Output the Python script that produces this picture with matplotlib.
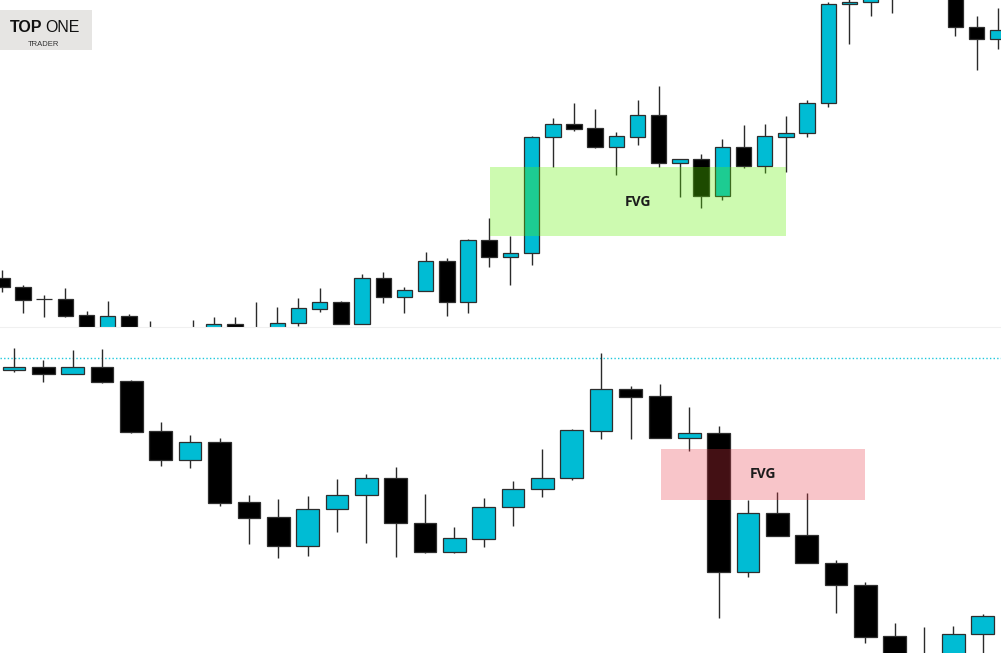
import matplotlib
matplotlib.use("Agg")
import matplotlib.pyplot as plt
from matplotlib.patches import Rectangle

# colours
BULL = "#00bcd4"
BEAR = "#000000"
EDGE = "#2e2e2e"
WICK = "#2a2a2a"

# upper chart, OHLC (price units)
top_open = [122, 113, 101, 101, 85, 70, 84, 70, 68, 71, 68, 76, 72, 70, 77, 91,
            98, 76, 122, 103, 109, 139, 98, 160, 143, 147, 263, 276, 272, 253, 263, 285,
            237, 241, 204, 253, 234, 263, 267, 297, 396, 398, 405, 415, 425, 412, 373, 361]
top_high = [130, 115, 105, 112, 89, 99, 86, 79, 71, 80, 83, 83, 98, 93, 102, 112,
            99, 126, 128, 113, 148, 142, 161, 182, 164, 264, 282, 297, 291, 268, 300, 314,
            241, 246, 261, 275, 276, 284, 300, 398, 402, 410, 420, 430, 432, 415, 384, 392]
top_low = [108, 87, 83, 83, 66, 65, 64, 60, 60, 62, 64, 64, 66, 66, 74, 88,
           76, 76, 97, 87, 109, 84, 87, 133, 115, 135, 233, 269, 252, 225, 255, 233,
           203, 192, 200, 232, 227, 228, 263, 293, 356, 384, 387, 405, 402, 364, 330, 351]
top_close = [113, 100, 101, 84, 70, 84, 68, 66, 64, 68, 76, 68, 70, 77, 92, 98,
             76, 122, 103, 110, 139, 98, 160, 143, 147, 263, 276, 271, 253, 264, 285, 237,
             241, 204, 253, 234, 264, 267, 297, 396, 398, 404, 415, 425, 410, 373, 361, 370]

# lower chart, OHLC (price units)
bot_open = [330, 333, 326, 333, 319, 269, 240, 258, 198, 183, 154, 191, 205, 222, 177, 148, 161,
            193, 211, 222, 269, 311, 304, 262, 267, 128, 187, 165, 137, 115, 64, 44, 40, 66]
bot_high = [352, 340, 350, 351, 320, 278, 265, 262, 205, 201, 204, 221, 226, 233, 206, 173, 202,
            219, 251, 271, 347, 314, 316, 293, 274, 200, 208, 207, 140, 118, 77, 73, 74, 86]
bot_low = [328, 318, 326, 317, 267, 234, 232, 194, 156, 142, 144, 168, 157, 143, 147, 147, 153,
           174, 203, 220, 261, 261, 262, 249, 82, 123, 164, 137, 87, 57, 30, 30, 30, 35]
bot_close = [333, 326, 333, 318, 268, 240, 258, 197, 182, 154, 191, 205, 222, 177, 148, 162, 193,
             211, 222, 270, 311, 303, 262, 267, 128, 187, 164, 137, 115, 63, 40, 40, 66, 84]

# fair value gaps: (first candle, last candle, low, high)
top_fvg = (23.04, 37.0, 164, 233)
bot_fvg = (22.04, 28.98, 200, 251)
cyan_level = 342.5


def draw_candles(ax, o, h, l, c, width):
    for i in range(len(o)):
        up = c[i] > o[i]
        col = BULL if up else BEAR
        ax.vlines(i, l[i], h[i], color=WICK, lw=1.0, zorder=2)
        lo = min(o[i], c[i])
        ax.add_patch(Rectangle((i - width / 2, lo), width, abs(c[i] - o[i]),
                               facecolor=col, edgecolor=EDGE, lw=0.9, zorder=3))


def draw_fvg(ax, box, color, alpha):
    x0, x1, y0, y1 = box
    ax.add_patch(Rectangle((x0, y0), x1 - x0, y1 - y0, facecolor=color,
                           edgecolor="none", alpha=alpha, zorder=4))
    ax.text((x0 + x1) / 2, (y0 + y1) / 2, "FVG", ha="center", va="center",
            fontsize=10, fontweight="bold", family="Open Sans", color="#1c1c1c", zorder=5)


fig = plt.figure(figsize=(10.01, 6.53), dpi=100)
ax_top = fig.add_axes([0, 326 / 653, 1, 327 / 653])
ax_bot = fig.add_axes([0, 0, 1, 326 / 653])

draw_candles(ax_top, top_open, top_high, top_low, top_close, 0.73)
draw_fvg(ax_top, top_fvg, "#60f000", 0.31)
ax_top.set_xlim(-0.085, 47.15)
ax_top.set_ylim(73, 400)

draw_candles(ax_bot, bot_open, bot_high, bot_low, bot_close, 0.77)
draw_fvg(ax_bot, bot_fvg, "#ea3947", 0.29)
ax_bot.axhline(cyan_level, color="#1ec8dc", lw=1.0, ls=(0, (1, 1.6)), zorder=1)
ax_bot.set_xlim(-0.477, 33.62)
ax_bot.set_ylim(47, 373)

for ax in (ax_top, ax_bot):
    ax.set_axis_off()

# faint separator between the two charts
fig.add_artist(plt.Line2D([0, 1], [326.5 / 653, 326.5 / 653], color="#f0f0f0", lw=0.8))

# logo
fig.add_artist(Rectangle((0, 1 - 50 / 653), 92 / 1001, 40 / 653, facecolor="#e6e5e3",
                         edgecolor="none", transform=fig.transFigure))
fig.text(10 / 1001, 1 - 28 / 653, "TOP", fontsize=11.5, fontweight="bold",
         family="Liberation Sans", color="#111111", ha="left", va="center")
fig.text(45 / 1001, 1 - 28 / 653, "ONE", fontsize=11.5, family="Liberation Sans",
         color="#111111", ha="left", va="center")
fig.text(43 / 1001, 1 - 44 / 653, "TRADER", fontsize=5.5, family="Liberation Sans",
         color="#333333", ha="center", va="center")

fig.savefig("out.png", dpi=100)
